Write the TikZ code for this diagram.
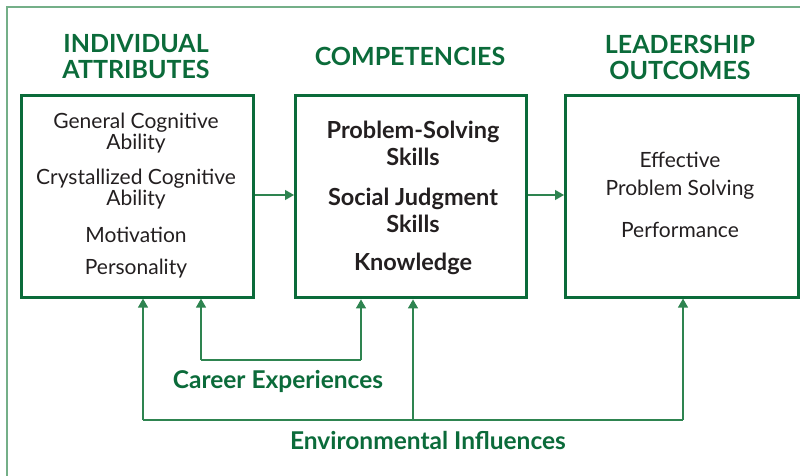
\documentclass[tikz,border=0pt]{standalone}
\usepackage{fontspec}
\setmainfont{Lato}
\usetikzlibrary{arrows.meta}
\definecolor{dkgreen}{HTML}{0B6B3A}
\definecolor{lngreen}{HTML}{2E8450}
\definecolor{frgreen}{HTML}{74AF88}
\definecolor{txt}{HTML}{231F20}
\tikzset{
  box/.style={draw=dkgreen, line width=2.6pt, minimum width=#1, minimum height=202pt, inner sep=0pt, anchor=north west},
  body/.style={text=txt, font=\fontsize{21}{21}\selectfont, align=center, inner sep=0pt},
  bbody/.style={text=txt, font=\fontsize{23.5}{27}\selectfont\bfseries, align=center, inner sep=0pt},
  head/.style={text=dkgreen, font=\fontsize{25}{26}\selectfont\bfseries, align=center, inner sep=0pt},
  lbl/.style={text=dkgreen, font=\fontsize{24.5}{25}\selectfont\bfseries, inner sep=0pt},
  conn/.style={draw=lngreen, line width=1.3pt},
  arr/.style={conn, -{Triangle[length=9pt,width=10pt]}},
}
\begin{document}
\begin{tikzpicture}[x=1pt,y=-1pt]
\useasboundingbox (0,0) rectangle (800,476);
\draw[frgreen, line width=1.5pt] (7,480) -- (7,7) -- (805,7);
% headings
\node[head] (h1) at (136,57) {INDIVIDUAL\\ATTRIBUTES};
\node[head] (h2) at (410,56) {COMPETENCIES};
\node[head] (h3) at (680,57) {LEADERSHIP\\OUTCOMES};
% boxes
\node[box=232pt] (b1) at (20,94) {};
\node[box=231pt, line width=3.4pt] (b2) at (294,94) {};
\node[box=233pt] (b3) at (564,94) {};
% box 1 text
\node[body] (t11) at (136,133) {General Cognitive\\Ability};
\node[body] (t12) at (136,189) {Crystallized Cognitive\\Ability};
\node[body] (t13) at (136,235) {Motivation};
\node[body] (t14) at (136,269) {Personality};
% box 2 text
\node[bbody] (t21) at (413,143) {Problem-Solving\\Skills};
\node[bbody] (t22) at (413,210) {Social Judgment\\Skills};
\node[bbody] (t23) at (413,264) {Knowledge};
% box 3 text
\node[body, font=\fontsize{21}{28}\selectfont] (t31) at (680,176) {Effective\\Problem Solving};
\node[body] (t32) at (680,230) {Performance};
% horizontal arrows
\draw[arr] (b1.east |- 0,195) -- (b2.west |- 0,195);
\draw[arr] (b2.east |- 0,195) -- (b3.west |- 0,195);
% career experiences
\coordinate (c1) at (201,360);
\coordinate (c2) at (361,360);
\draw[conn] (c1) -- (c2);
\draw[arr] (c1) -- (c1 |- b1.south);
\draw[arr] (c2) -- (c2 |- b2.south);
\node[lbl] (ce) at (278,381) {Career Experiences};
% environmental influences
\coordinate (e1) at (143,420);
\coordinate (e2) at (413,420);
\coordinate (e3) at (683,420);
\draw[conn] (e1) -- (e3);
\draw[arr] (e1) -- (e1 |- b1.south);
\draw[arr] (e2) -- (e2 |- b2.south);
\draw[arr] (e3) -- (e3 |- b3.south);
\node[lbl] (ei) at (428,440) {Environmental Influences};
\end{tikzpicture}
\end{document}
